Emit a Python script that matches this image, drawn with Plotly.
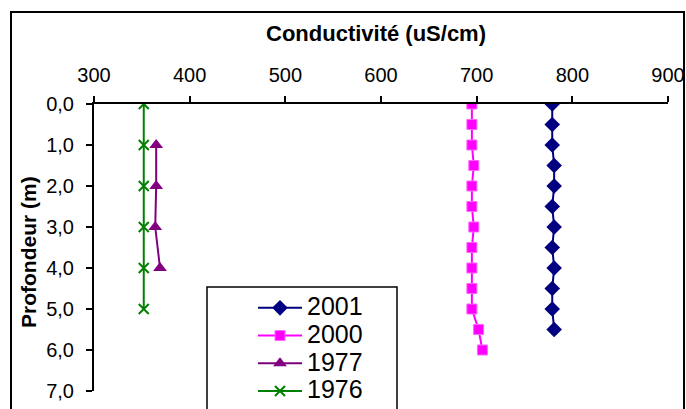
import plotly.graph_objects as go

# Data
years = ["2001", "2000", "1977", "1976"]

depth_2001 = [0, 0.5, 1, 1.5, 2, 2.5, 3, 3.5, 4, 4.5, 5, 5.5]
cond_2001 = [779, 779, 779, 781, 781, 779, 781, 779, 781, 779, 779, 781]

depth_2000 = [0, 0.5, 1, 1.5, 2, 2.5, 3, 3.5, 4, 4.5, 5, 5.5, 6]
cond_2000 = [695, 695, 695, 697, 695, 695, 697, 695, 695, 695, 695, 702, 706]

depth_1977 = [1, 2, 3, 4]
cond_1977 = [365, 365, 364, 369]

depth_1976 = [0, 1, 2, 3, 4, 5]
cond_1976 = [352, 352, 352, 352, 352, 352]

x_ticks = [300, 400, 500, 600, 700, 800, 900]
y_ticks = [0, 1, 2, 3, 4, 5, 6, 7]

FONT = "Liberation Sans, Arial, sans-serif"


def lg(name):
    return '<span style="font-size:25px">' + name + '</span>'


fig = go.Figure()
fig.add_trace(go.Scatter(x=cond_2001, y=depth_2001, name=lg(years[0]), mode="lines+markers",
                         line=dict(color="#000080", width=2),
                         marker=dict(symbol="diamond", size=12, color="#000080")))
fig.add_trace(go.Scatter(x=cond_2000, y=depth_2000, name=lg(years[1]), mode="lines+markers",
                         line=dict(color="#FF00FF", width=2),
                         marker=dict(symbol="square", size=10, color="#FF00FF",
                                     line=dict(color="#FF66FF", width=1))))
fig.add_trace(go.Scatter(x=cond_1977, y=depth_1977, name=lg(years[2]), mode="lines+markers",
                         line=dict(color="#800080", width=2),
                         marker=dict(symbol="triangle-up", size=12, color="#800080")))
fig.add_trace(go.Scatter(x=cond_1976, y=depth_1976, name=lg(years[3]), mode="lines+markers",
                         line=dict(color="#008000", width=2),
                         marker=dict(symbol="x-thin", size=10, color="#008000",
                                     line=dict(color="#008000", width=2))))

L, R, T, B = 94, 18, 104, 18
W, H = 686, 409
pw = W - L - R
ph = H - T - B

def px2x(p):
    return (p - L) / pw

def py2y(p):
    return (H - B - p) / ph

fig.update_layout(
    width=W, height=H,
    margin=dict(l=L, r=R, t=T, b=B, autoexpand=False),
    paper_bgcolor="white", plot_bgcolor="white",
    separators=", ",
    font=dict(family=FONT, size=20, color="black"),
    showlegend=True,
    legend=dict(x=px2x(253), y=py2y(289), xanchor="left", yanchor="top",
                borderwidth=0, bgcolor="rgba(0,0,0,0)",
                font=dict(size=19, family=FONT), tracegroupgap=0,
                itemwidth=44),
    xaxis=dict(range=[300, 900], side="top", tickvals=x_ticks,
               showgrid=False, zeroline=False, showline=True,
               linecolor="black", linewidth=2, ticks="outside", ticklen=6,
               tickcolor="black", tickwidth=2, ticklabelstandoff=6,
               tickfont=dict(size=20)),
    yaxis=dict(range=[7, 0], tickvals=y_ticks, tickformat=".1f",
               showgrid=False, zeroline=False, showline=True,
               linecolor="black", linewidth=2, ticks="outside", ticklen=6,
               tickcolor="black", tickwidth=2, ticklabelstandoff=8,
               tickfont=dict(size=20)),
    shapes=[
        dict(type="rect", xref="paper", yref="paper",
             x0=px2x(11), x1=px2x(684), y0=py2y(430), y1=py2y(12),
             line=dict(color="black", width=2), fillcolor="rgba(0,0,0,0)",
             layer="below"),
        # legend frame
        dict(type="rect", xref="paper", yref="paper",
             x0=px2x(207), x1=px2x(397), y0=py2y(430), y1=py2y(287),
             line=dict(color="black", width=1.5), fillcolor="white",
             layer="above"),
    ],
    annotations=[
        dict(text="<b>Conductivité (uS/cm)</b>", xref="paper", yref="paper",
             x=px2x(376), y=py2y(33), showarrow=False, xanchor="center",
             yanchor="middle", font=dict(size=22, family=FONT)),
        dict(text="<b>Profondeur (m)</b>", xref="paper", yref="paper",
             x=px2x(28), y=py2y(252), showarrow=False, textangle=-90,
             xanchor="center", yanchor="middle", font=dict(size=21, family=FONT)),
    ],
)

fig.write_html("out.html")
